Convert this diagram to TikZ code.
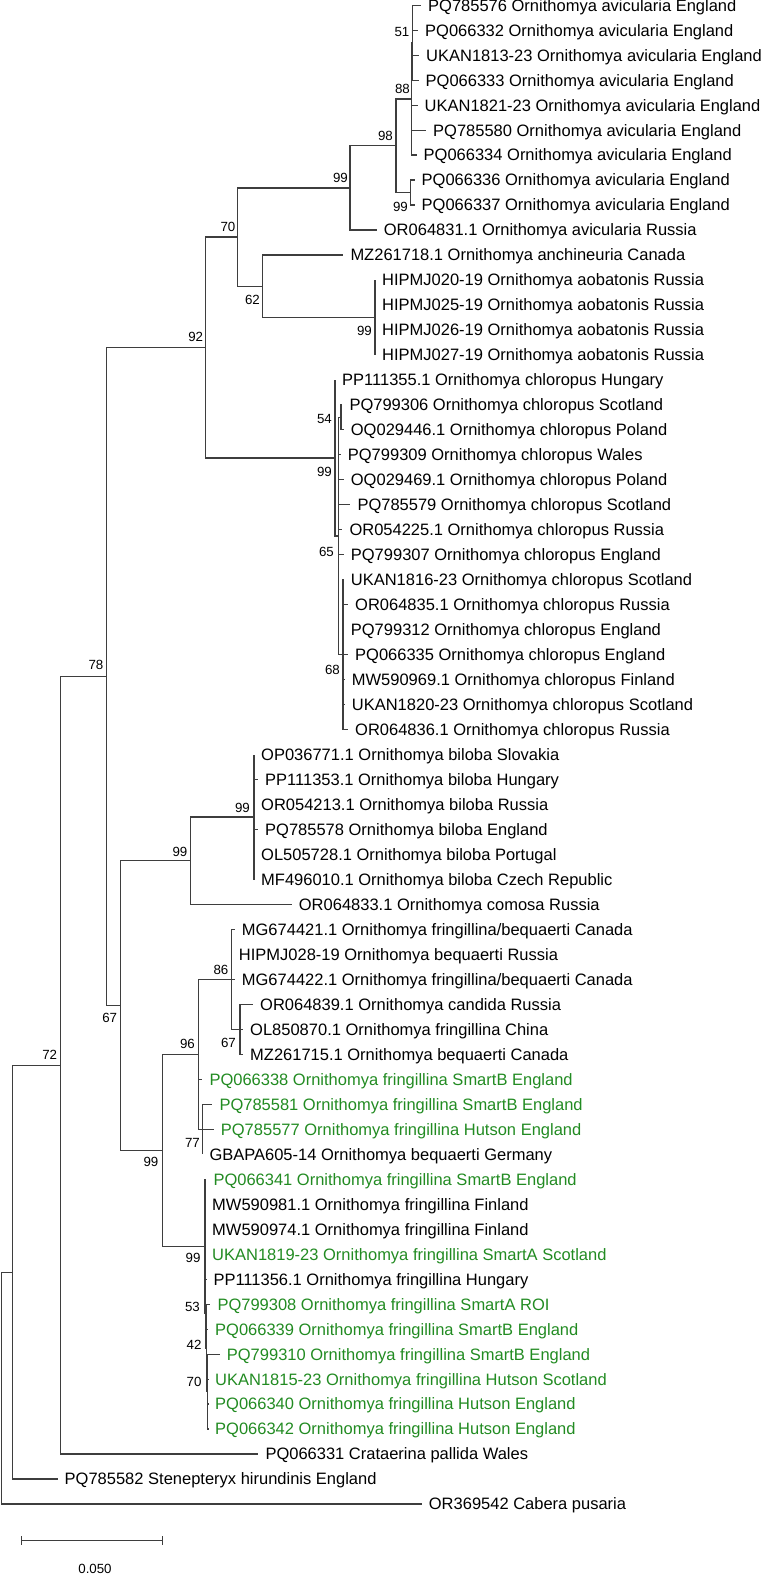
\documentclass[tikz,border=0pt]{standalone}
\usepackage{fontspec}
\setmainfont{Liberation Sans}
\definecolor{grn}{RGB}{34,139,34}
\definecolor{brc}{RGB}{62,62,62}
% #1 index, #2 parent, #3 end x, #4 text, #5 style
\newcommand\mkleaf[5]{%
  \coordinate (e#1) at (#3,{5.2+(#1-1)*24.98});
  \draw[br] (#2) |- (e#1);
  \node[#5, anchor=base west] (t#1) at ([xshift=7pt,yshift=-5.9pt]e#1) {#4};
}
\begin{document}
\begin{tikzpicture}[x=1pt,y=-1pt,
  br/.style={draw=brc,line width=1.2pt},
  lt/.style={font=\fontsize{16.5}{18}\selectfont, inner sep=0pt, text=black},
  lg/.style={lt, text=grn},
  bs/.style={font=\fontsize{13.3}{14}\selectfont, inner sep=0pt, anchor=east, text=black}]
\useasboundingbox (0,0) rectangle (761,1574);

% internal nodes
\coordinate (root) at (1.7,1388.1);
\coordinate (nSt) at (12.3,1272.15);
\coordinate (n72) at (60.3,1065.3);
\coordinate (n78) at (106.7,676.55);
\coordinate (n92) at (205.7,347.5);
\coordinate (n70) at (237.3,237.05);
\coordinate (n99a) at (350,187.9);
\coordinate (n98) at (396,145.7);
\coordinate (n88) at (411.7,98.9);
\coordinate (n51) at (412.7,42.65);
\coordinate (n99b) at (410.7,192.55);
\coordinate (n62) at (262.3,286.2);
\coordinate (n62b) at (375,317.45);
\coordinate (n99c) at (335,457.95);
\coordinate (nA) at (338.3,536.0);
\coordinate (n54) at (341,417.4);
\coordinate (n68) at (343,654.65);
\coordinate (n67) at (120.7,1005.6);
\coordinate (n99e) at (190.7,860.8);
\coordinate (n99d) at (254,817.05);
\coordinate (n99f) at (162.3,1150.4);
\coordinate (n96) at (198.3,1054.4);
\coordinate (n86) at (231.7,979.45);
\coordinate (n67s) at (240,1029.4);
\coordinate (n77) at (202.3,1129.3);
\coordinate (nP) at (205,1246.4);
\coordinate (nQ) at (205.7,1313.55);
\coordinate (nR) at (206.5,1347.9);
\coordinate (nS) at (207.5,1391.6);

% internal branches
\draw[br] (root) |- (nSt);
\draw[br] (nSt) |- (n72);
\draw[br] (n72) |- (n78);
\draw[br] (n78) |- (n92);
\draw[br] (n92) |- (n70);
\draw[br] (n70) |- (n99a);
\draw[br] (n99a) |- (n98);
\draw[br] (n98) |- (n88);
\draw[br] (n88) |- (n51);
\draw[br] (n98) |- (n99b);
\draw[br] (n70) |- (n62);
\draw[br] (n62) |- (n62b);
\draw[br] (n92) |- (n99c);
\draw[br] (n99c) |- (nA);
\draw[br] (nA) |- (n54);
\draw[br] (nA) |- (n68);
\draw[br] (n78) |- (n67);
\draw[br] (n67) |- (n99e);
\draw[br] (n99e) |- (n99d);
\draw[br] (n67) |- (n99f);
\draw[br] (n99f) |- (n96);
\draw[br] (n96) |- (n86);
\draw[br] (n86) |- (n67s);
\draw[br] (n96) |- (n77);
\draw[br] (n99f) |- (nP);
\draw[br] (nP) |- (nQ);
\draw[br] (nQ) |- (nR);
\draw[br] (nR) |- (nS);

% leaves
\mkleaf{1}{n51}{421}{PQ785576 Ornithomya avicularia England}{lt}
\mkleaf{2}{n51}{418}{PQ066332 Ornithomya avicularia England}{lt}
\mkleaf{3}{n51}{419}{UKAN1813-23 Ornithomya avicularia England}{lt}
\mkleaf{4}{n51}{418.5}{PQ066333 Ornithomya avicularia England}{lt}
\mkleaf{5}{n88}{417.5}{UKAN1821-23 Ornithomya avicularia England}{lt}
\mkleaf{6}{n88}{426}{PQ785580 Ornithomya avicularia England}{lt}
\mkleaf{7}{n88}{416.5}{PQ066334 Ornithomya avicularia England}{lt}
\mkleaf{8}{n99b}{414.5}{PQ066336 Ornithomya avicularia England}{lt}
\mkleaf{9}{n99b}{414.5}{PQ066337 Ornithomya avicularia England}{lt}
\mkleaf{10}{n99a}{376.7}{OR064831.1 Ornithomya avicularia Russia}{lt}
\mkleaf{11}{n62}{343.3}{MZ261718.1 Ornithomya anchineuria Canada}{lt}
\mkleaf{12}{n62b}{375}{HIPMJ020-19 Ornithomya aobatonis Russia}{lt}
\mkleaf{13}{n62b}{375}{HIPMJ025-19 Ornithomya aobatonis Russia}{lt}
\mkleaf{14}{n62b}{375}{HIPMJ026-19 Ornithomya aobatonis Russia}{lt}
\mkleaf{15}{n62b}{375}{HIPMJ027-19 Ornithomya aobatonis Russia}{lt}
\mkleaf{16}{n99c}{335}{PP111355.1 Ornithomya chloropus Hungary}{lt}
\mkleaf{17}{n54}{342.3}{PQ799306 Ornithomya chloropus Scotland}{lt}
\mkleaf{18}{n54}{343.7}{OQ029446.1 Ornithomya chloropus Poland}{lt}
\mkleaf{19}{nA}{340.7}{PQ799309 Ornithomya chloropus Wales}{lt}
\mkleaf{20}{nA}{343.7}{OQ029469.1 Ornithomya chloropus Poland}{lt}
\mkleaf{21}{nA}{350.3}{PQ785579 Ornithomya chloropus Scotland}{lt}
\mkleaf{22}{nA}{342.3}{OR054225.1 Ornithomya chloropus Russia}{lt}
\mkleaf{23}{nA}{343.7}{PQ799307 Ornithomya chloropus England}{lt}
\mkleaf{24}{n68}{343.7}{UKAN1816-23 Ornithomya chloropus Scotland}{lt}
\mkleaf{25}{n68}{348}{OR064835.1 Ornithomya chloropus Russia}{lt}
\mkleaf{26}{n68}{343.7}{PQ799312 Ornithomya chloropus England}{lt}
\mkleaf{27}{n68}{348}{PQ066335 Ornithomya chloropus England}{lt}
\mkleaf{28}{n68}{344.7}{MW590969.1 Ornithomya chloropus Finland}{lt}
\mkleaf{29}{n68}{344.7}{UKAN1820-23 Ornithomya chloropus Scotland}{lt}
\mkleaf{30}{n68}{348}{OR064836.1 Ornithomya chloropus Russia}{lt}
\mkleaf{31}{n99d}{254}{OP036771.1 Ornithomya biloba Slovakia}{lt}
\mkleaf{32}{n99d}{258}{PP111353.1 Ornithomya biloba Hungary}{lt}
\mkleaf{33}{n99d}{254}{OR054213.1 Ornithomya biloba Russia}{lt}
\mkleaf{34}{n99d}{258}{PQ785578 Ornithomya biloba England}{lt}
\mkleaf{35}{n99d}{254}{OL505728.1 Ornithomya biloba Portugal}{lt}
\mkleaf{36}{n99d}{254}{MF496010.1 Ornithomya biloba Czech Republic}{lt}
\mkleaf{37}{n99e}{291.7}{OR064833.1 Ornithomya comosa Russia}{lt}
\mkleaf{38}{n86}{234.7}{MG674421.1 Ornithomya fringillina/bequaerti Canada}{lt}
\mkleaf{39}{n86}{231.7}{HIPMJ028-19 Ornithomya bequaerti Russia}{lt}
\mkleaf{40}{n86}{234.7}{MG674422.1 Ornithomya fringillina/bequaerti Canada}{lt}
\mkleaf{41}{n67s}{253}{OR064839.1 Ornithomya candida Russia}{lt}
\mkleaf{42}{n67s}{243}{OL850870.1 Ornithomya fringillina China}{lt}
\mkleaf{43}{n67s}{243}{MZ261715.1 Ornithomya bequaerti Canada}{lt}
\mkleaf{44}{n96}{202.3}{PQ066338 Ornithomya fringillina SmartB England}{lg}
\mkleaf{45}{n77}{212.3}{PQ785581 Ornithomya fringillina SmartB England}{lg}
\mkleaf{46}{n77}{213.7}{PQ785577 Ornithomya fringillina Hutson England}{lg}
\mkleaf{47}{n77}{202.3}{GBAPA605-14 Ornithomya bequaerti Germany}{lt}
\mkleaf{48}{nP}{206.3}{PQ066341 Ornithomya fringillina SmartB England}{lg}
\mkleaf{49}{nP}{205}{MW590981.1 Ornithomya fringillina Finland}{lt}
\mkleaf{50}{nP}{205}{MW590974.1 Ornithomya fringillina Finland}{lt}
\mkleaf{51}{nP}{205}{UKAN1819-23 Ornithomya fringillina SmartA Scotland}{lg}
\mkleaf{52}{nQ}{206.3}{PP111356.1 Ornithomya fringillina Hungary}{lt}
\mkleaf{53}{nR}{210.3}{PQ799308 Ornithomya fringillina SmartA ROI}{lg}
\mkleaf{54}{nR}{208}{PQ066339 Ornithomya fringillina SmartB England}{lg}
\mkleaf{55}{nS}{219.7}{PQ799310 Ornithomya fringillina SmartB England}{lg}
\mkleaf{56}{nS}{208}{UKAN1815-23 Ornithomya fringillina Hutson Scotland}{lg}
\mkleaf{57}{nS}{208}{PQ066340 Ornithomya fringillina Hutson England}{lg}
\mkleaf{58}{nS}{208}{PQ066342 Ornithomya fringillina Hutson England}{lg}
\mkleaf{59}{n72}{258.3}{PQ066331 Crataerina pallida Wales}{lt}
\mkleaf{60}{nSt}{57.5}{PQ785582 Stenepteryx hirundinis England}{lt}
\mkleaf{61}{root}{421.7}{OR369542 Cabera pusaria}{lt}

% bootstrap values
\node[bs] (b51) at (409.5,32) {51};
\node[bs] (b88) at (410,89) {88};
\node[bs] (b98) at (393,136) {98};
\node[bs] (b99b) at (408,207) {99};
\node[bs] (b99a) at (348,178) {99};
\node[bs] (b70) at (235.5,227) {70};
\node[bs] (b62) at (260,300) {62};
\node[bs] (b99h) at (372,331) {99};
\node[bs] (b92) at (203.3,337) {92};
\node[bs] (b54) at (332,419) {54};
\node[bs] (b99c) at (332,472) {99};
\node[bs] (b65) at (334,552) {65};
\node[bs] (b68) at (340,670) {68};
\node[bs] (b78) at (103.5,665) {78};
\node[bs] (b99d) at (250,808) {99};
\node[bs] (b99e) at (187.5,851.7) {99};
\node[bs] (b86) at (228.5,970) {86};
\node[bs] (b67s) at (236,1043) {67};
\node[bs] (b96) at (195,1044) {96};
\node[bs] (b77) at (200,1143) {77};
\node[bs] (b67) at (117.3,1018.3) {67};
\node[bs] (b72) at (57.3,1055) {72};
\node[bs] (b99f) at (158.5,1161.7) {99};
\node[bs] (b99P) at (200.7,1258.3) {99};
\node[bs] (b53) at (200,1306.7) {53};
\node[bs] (b42) at (201.7,1345) {42};
\node[bs] (b70S) at (201.7,1381.7) {70};

% scale bar
\coordinate (sb1) at (21.7,1540.7);
\coordinate (sb2) at (162.7,1540.7);
\draw[br] (sb1) -- (sb2);
\draw[br] ([yshift=4.5pt]sb1) -- ([yshift=-4.5pt]sb1);
\draw[br] ([yshift=4.5pt]sb2) -- ([yshift=-4.5pt]sb2);
\node[bs, anchor=center] (sbl) at (95,1568.5) {0.050};
\end{tikzpicture}
\end{document}
